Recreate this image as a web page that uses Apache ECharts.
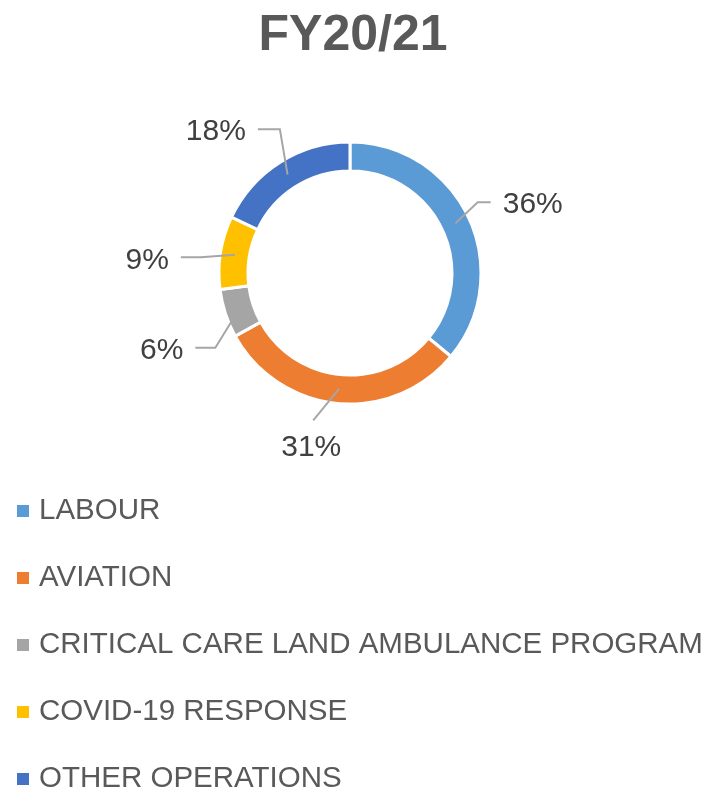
<!DOCTYPE html>
<html>
<head>
<meta charset="utf-8">
<script src="https://cdn.jsdelivr.net/npm/echarts@6/dist/echarts.min.js"></script>
<style>
  html, body { margin: 0; padding: 0; background: #fff; }
  #chart { width: 706px; height: 790px; }
</style>
</head>
<body>
<div id="chart"></div>
<script>
/**分类 */
let categories = ['LABOUR', 'AVIATION', 'CRITICAL CARE LAND AMBULANCE PROGRAM', 'COVID-19 RESPONSE', 'OTHER OPERATIONS'];
/**占比(%) */
let shares = [36, 31, 6, 9, 18];
/**颜色 */
let colorLis = ['#5B9BD5', '#ED7D31', '#A5A5A5', '#FFC000', '#4472C4'];

/**饼图几何 */
let pieCenter = [350, 273];
let pieRadius = [102, 131];
/**引导线拐点 [角度, 半径, 水平段长度]，仿 Excel 的标签摆放 */
let leaderLis = [[61, 146, 13], [194, 152, 0], [241, 154, 20], [276, 150, 20], [334, 160, 22]];

let chartDom = document.getElementById('chart');
let chartIns = echarts.init(chartDom);

var polarPoint = function (deg, r) {/**从12点方向顺时针 */
  let a = deg * Math.PI / 180;
  return [pieCenter[0] + r * Math.sin(a), pieCenter[1] - r * Math.cos(a)];
}

var total = shares.reduce((s, v) => s + v, 0);
var midAngle = function (idx) {
  let before = 0;
  for (let i = 0; i < idx; i++) before += shares[i];
  return (before + shares[idx] / 2) / total * 360;
}

var layoutLabel = function (params) {/**标签与引导线位置 */
  let idx = params.dataIndex;
  let leader = leaderLis[idx];
  let start = polarPoint(midAngle(idx), (pieRadius[0] + pieRadius[1]) / 2);
  let elbow = polarPoint(leader[0], leader[1]);
  if (leader[2] === 0) {
    return {
      x: elbow[0] - 2,
      y: elbow[1] + 12,
      align: 'center',
      verticalAlign: 'top',
      labelLinePoints: [start, elbow, elbow]
    };
  }
  let dir = elbow[0] < pieCenter[0] ? -1 : 1;
  let end = [elbow[0] + dir * leader[2], elbow[1]];
  return {
    x: end[0] + dir * 12,
    y: end[1] + 3,
    align: dir < 0 ? 'right' : 'left',
    verticalAlign: 'middle',
    labelLinePoints: [start, elbow, end]
  };
}

var pieData = categories.map((name, i) => ({ name: name, value: shares[i] }));

let option = {
  animation: false,
  color: colorLis,
  title: {
    text: 'FY20/21',
    left: 'center',
    top: 6,
    textStyle: {
      color: '#595959',
      fontFamily: 'Liberation Sans',
      fontWeight: 'bold',
      fontSize: 50
    }
  },
  legend: {
    orient: 'vertical',
    left: 12,
    top: 491,
    height: 360,
    itemWidth: 12,
    itemHeight: 12,
    itemGap: 37,
    icon: 'rect',
    itemStyle: { borderWidth: 0 },
    data: categories,
    textStyle: {
      color: '#595959',
      fontFamily: 'Liberation Sans',
      fontSize: 29.5,
      padding: [0, 0, 0, 5]
    }
  },
  series: [
    //圆环
    {
      type: 'pie',
      center: pieCenter,
      radius: pieRadius,
      startAngle: 90,
      clockwise: true,
      itemStyle: {
        borderColor: '#fff',
        borderWidth: 3
      },
      label: { show: false },
      labelLine: { show: false },
      data: pieData
    },
    //标签层：引导线画在圆环上面
    {
      type: 'pie',
      z: 3,
      silent: true,
      center: pieCenter,
      radius: pieRadius,
      startAngle: 90,
      clockwise: true,
      avoidLabelOverlap: false,
      itemStyle: {
        color: 'rgba(0,0,0,0)',
        borderWidth: 0
      },
      label: {
        show: true,
        formatter: '{c}%',
        color: '#404040',
        fontFamily: 'Liberation Sans',
        fontSize: 30
      },
      labelLine: {
        show: true,
        lineStyle: { color: '#A6A6A6', width: 2 }
      },
      labelLayout: layoutLabel,
      data: pieData
    }
  ]
};

chartIns.setOption(option);
</script>
</body>
</html>
